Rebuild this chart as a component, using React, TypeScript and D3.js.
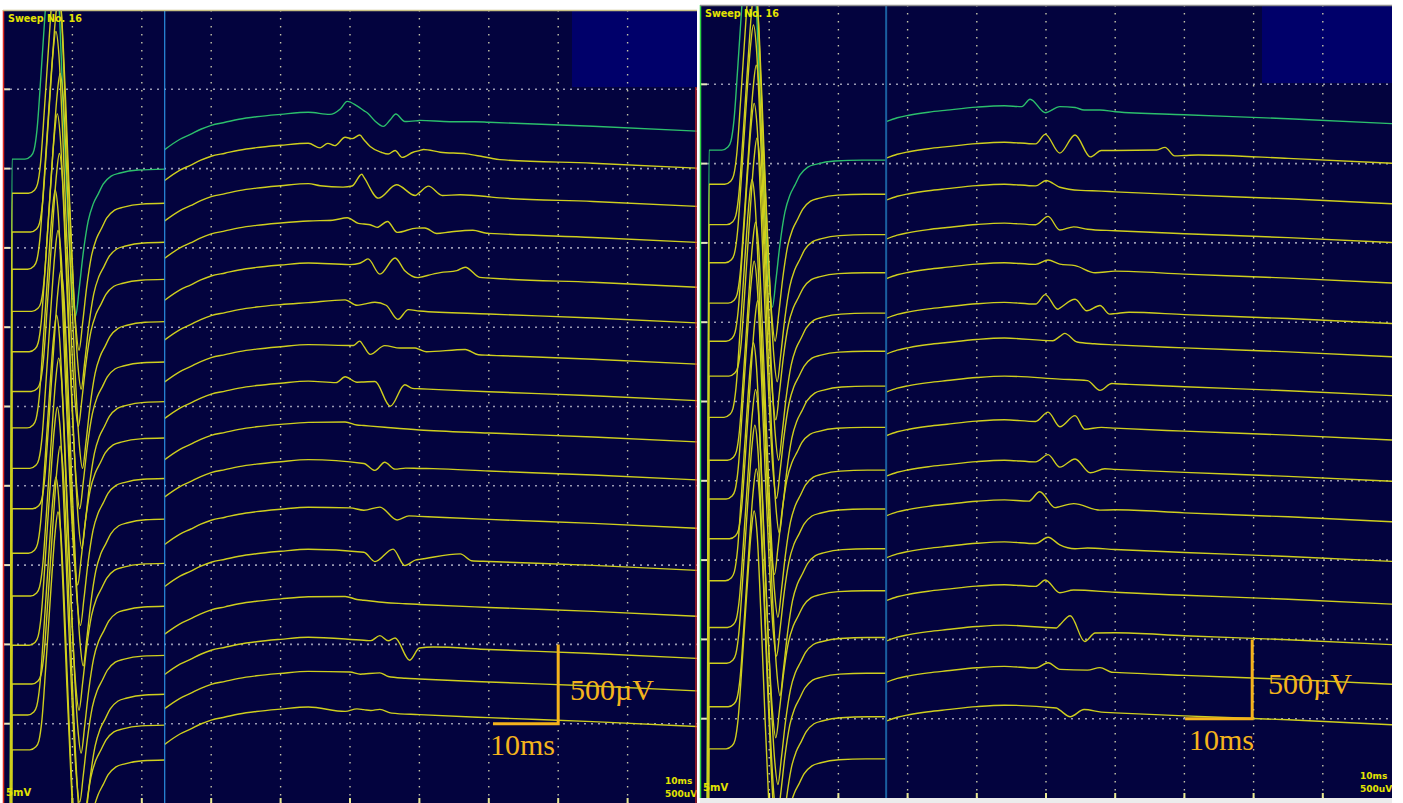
import React from "react";
import * as d3 from "d3";

const W = 1403;
const H = 803;

// scope settings
const sweepMs = 100;
const cmapMvPerDiv = 5;
const fUvPerDiv = 500;
const sweepLabel = "Sweep No. 16";

// CMAP template of the first sweep (ms after sweep start, mV from pre-stimulus baseline)
const cmapT = [0.9, 1.0, 1.3, 3.17, 4.04, 4.47, 4.91, 5.48, 6.2, 6.78, 7.22, 7.65, 8.23, 8.8, 9.38, 9.96, 10.46, 10.97, 11.54, 12.27, 12.99, 13.71, 14.43, 15.58, 16.88, 19.48, 23.38, 27.5];
const cmapMv = [-44, -44, 0, 0, 0.19, 0.57, 1.89, 5.36, 10.09, 13.56, 15.0, 13.56, 8.2, 1.89, -3.78, -8.2, -9.9, -8.2, -5.99, -3.91, -2.84, -2.21, -1.58, -1.07, -0.88, -0.69, -0.63, -0.63];

// per sweep CMAP latency shift (ms)
const leftLatency = [0, 0.5, 0.8, 0.4, 1.0, 0.6, 0.9, 0.3, 0.7, 1.1, 0.5, 0.8, 0.6, 1.0, 0.4, 0.7];
const rightLatency = [0, 0.4, 0.7, 0.5, 0.9, 0.6, 1.0, 0.3, 0.8, 0.6, 1.1, 0.5, 0.8, 0.7, 0.9, 0.6];

// trace positions (divisions from top) for the 5mV part and the 500uV part
const leftBaseDiv = [1.88, 2.31, 2.8, 3.27, 3.8, 4.31, 4.81, 5.27, 5.78, 6.29, 6.85, 7.39, 8.01, 8.5, 8.89, 9.33];
const rightBaseDiv = [1.83, 2.26, 2.77, 3.25, 3.76, 4.24, 4.68, 5.2, 5.74, 6.23, 6.73, 7.26, 7.85, 8.3, 8.85, 9.38];
const leftLevelDiv = [1.29, 1.68, 2.19, 2.66, 3.19, 3.69, 4.22, 4.68, 5.2, 5.67, 6.27, 6.8, 7.4, 7.91, 8.34, 8.79];
const rightLevelDiv = [1.27, 1.73, 2.26, 2.75, 3.25, 3.75, 4.2, 4.68, 5.23, 5.74, 6.24, 6.77, 7.31, 7.82, 8.34, 8.83];

// cursor between the two gains (ms)
const leftCursorMs = 23.3;
const rightCursorMs = 26.9;

// slow background after the cursor (ms, uV)
const leftBgT = [23.3, 25.5, 27, 28.5, 30, 32, 34, 36.5, 40, 44, 52, 60, 70, 85, 100];
const leftBgUv = [-235, -170, -139, -107, -82, -63, -44, -28, -13, 0, -19, -38, -57, -82, -113];
const rightBgT = [26.9, 28.5, 30.2, 33, 35.7, 40, 44, 52, 60, 70, 85, 100];
const rightBgUv = [-101, -76, -60, -41, -28, -9, 0, -19, -38, -57, -82, -113];

// late responses per sweep: [ms, uV]
const leftFWaves: [number, number][][] = [
  [[44, 0], [47.1, -6], [48.6, 32], [49.6, 82], [51, 57], [52.6, 13], [53.6, -32], [54.8, -63], [55.8, -19], [56.6, 19], [57.9, -25], [60.1, -13], [64.4, -13], [68, -6]],
  [[44, 0], [45.7, -25], [46.8, 6], [47.8, -6], [49.3, 50], [50.3, 44], [51.4, 69], [52.9, 0], [54.5, -32], [55.5, -41], [56.5, -16], [57.5, -57], [59.1, -21], [60.6, 0], [63, -13], [66.8, -16], [69.2, -30], [71.6, -44]],
  [[44, 0], [45.7, -9], [49, -10], [50.3, 0], [51.7, 78], [54.1, -67], [56.7, 23], [59.4, -38], [61.3, 25], [63.3, -30], [65.9, -21], [69.7, -25], [71.6, -30]],
  [[44, 0], [47.5, 13], [49.6, 33], [51.2, 2], [52.9, -3], [53.9, -17], [55.4, 24], [56.8, -42], [59.6, -8], [60.8, -5], [62.5, -36], [64.4, -23], [67.7, -6], [69.7, -21], [71.6, -22]],
  [[44, 0], [50, 4], [51.4, 16], [52.6, 46], [54.3, -46], [56.5, 61], [57.9, -16], [59.8, -55], [63, -17], [65.4, 0], [66.6, 24], [68.7, -36], [71.6, -40]],
  [[44, 0], [49.3, 30], [51, 0], [53.6, 25], [55.2, 10], [56.9, -75], [58.4, -10], [60, -15], [70, -15]],
  [[44, 0], [50.5, 10], [51.4, 40], [52.9, -40], [55, 20], [57.2, 10], [59.4, 15], [61, -5], [66.6, 20], [68.5, -10], [72, -10]],
  [[44, 0], [48, 0], [49.3, 40], [51, 10], [53.6, 20], [55.8, -130], [57.9, 10], [59, -10], [62, -10]],
  [[44, 0], [49.3, 15], [51, 0], [55, -5], [60, -10]],
  [[44, 0], [52, -5], [53.6, -45], [55, 10], [56.5, -30], [58, -20], [62, -15]],
  [[44, 0], [50, 10], [52, 0], [54.3, 25], [56.8, -50], [58.5, -20], [62, -20]],
  [[44, 0], [52, 0], [53.6, -55], [56.2, 30], [57.9, -70], [59.5, -30], [65.9, 20], [67.5, -20], [72, -20]],
  [[44, 0], [49.3, 15], [51, 0], [55, -10], [58, -10]],
  [[44, 0], [53, 0], [54.3, 35], [55.5, 5], [56.5, 25], [58.6, -110], [60, -30], [62, -20]],
  [[44, 0], [50, 10], [51.5, 0], [54.3, 15], [55.5, -5], [58, -10]],
  [[44, 0], [49.3, -15], [51, 5], [53, 0], [54.3, 10], [56, -10], [60, -10]],
];

const rightFWaves: [number, number][][] = [
  [[44, 0], [46.5, 0], [47.7, 50], [49.9, -30], [52, 13], [54.2, 13], [55.5, 0], [57.8, 6], [60, 0]],
  [[44, 0], [48.5, 0], [49.9, 63], [52, -50], [54.2, 70], [56.4, -63], [58, -19], [66, 0], [67.2, 19], [68.6, -32], [72, -20]],
  [[44, 0], [48.5, 0], [50, 38], [52, 0], [55, -13], [58, -10]],
  [[44, 0], [48.5, 0], [50.3, 57], [52, -25], [54, 0], [56, -10]],
  [[44, 0], [48.5, 0], [50.3, 32], [52, 10], [54.2, 6], [57.1, -32], [60, -15]],
  [[44, 0], [48.5, 0], [49.9, 63], [51.7, -25], [54.2, 44], [55.9, -25], [57.8, 13], [59.2, -38], [62, -20]],
  [[44, 0], [51, 0], [52.7, 50], [54.5, 0], [57, -5]],
  [[44, 0], [56, 0], [57.8, -57], [59.5, -10], [62, -10]],
  [[44, 0], [48.5, 0], [50.3, 63], [52, -25], [54.2, 50], [55.6, -32], [58, -15]],
  [[44, 0], [48.5, 0], [50.3, 50], [52, -25], [54.2, 32], [56.4, -50], [58.5, -20]],
  [[44, 0], [47.5, 0], [49.1, 63], [51.3, -32], [54, 0], [57.8, -32], [60, -25]],
  [[44, 0], [48.5, 0], [50.3, 44], [52, 0], [54.2, -19], [56, -10]],
  [[44, 0], [48.5, 0], [49.9, 44], [52, -32], [54, -10]],
  [[44, 0], [51.5, 0], [53.5, 82], [55.6, -76], [57.1, -19], [60, -10]],
  [[44, 0], [48.5, 0], [50.3, 38], [52, 0], [56, 5], [57.8, 25], [59.5, 0]],
  [[44, 0], [51.5, 0], [53.5, -50], [55.5, 0], [58, -10]],
];

const BG = "#03033e";
const BOX = "#00006a";
const YELLOW = "#cfcf1e";
const GREEN = "#2cbf6c";
const ORANGE = "#f4b31c";
const LABEL = "#e4e400";

interface PanelProps {
  id: string;
  x0: number;
  x1: number;
  y0: number;
  y1: number;
  cursorMs: number;
  cursorColor: string;
  cursorWidth: number;
  latency: number[];
  baseDiv: number[];
  levelDiv: number[];
  bgT: number[];
  bgUv: number[];
  fwaves: [number, number][][];
  leftColor: string;
  barMs: [number, number];
  barText: { uvX: number; uvY: number; msX: number; msY: number };
  boxX: number;
  boxY1: number;
}

const line = d3
  .line<[number, number]>()
  .x((d) => d[0])
  .y((d) => d[1])
  .curve(d3.curveMonotoneX);

const Panel = (p: PanelProps) => {
  const x = d3.scaleLinear().domain([0, sweepMs]).range([p.x0, p.x1]);
  const y = d3.scaleLinear().domain([0, 10]).range([p.y0, p.y1]);
  const clipId = "clip-" + p.id;

  const cmapPaths = p.baseDiv.map((base, i) => {
    const shifted = cmapT.map((t) => (t >= 3 ? t + p.latency[i] : t));
    const interp = d3.scaleLinear().domain(shifted).range(cmapMv).clamp(true);
    const pts: [number, number][] = [];
    shifted.forEach((t, k) => {
      if (t < p.cursorMs) pts.push([x(t), y(base - cmapMv[k] / cmapMvPerDiv)]);
    });
    pts.push([x(p.cursorMs), y(base - interp(p.cursorMs) / cmapMvPerDiv)]);
    return line(pts) || "";
  });

  const fPaths = p.levelDiv.map((level, i) => {
    const fw = p.fwaves[i];
    const bg = d3.scaleLinear().domain(p.bgT).range(p.bgUv).clamp(true);
    const dev = d3
      .scaleLinear()
      .domain(fw.map((d) => d[0]))
      .range(fw.map((d) => d[1]))
      .clamp(true);
    const ts = Array.from(new Set([...p.bgT, ...fw.map((d) => d[0])]))
      .filter((t) => t >= p.cursorMs)
      .sort((a, b) => a - b);
    const pts: [number, number][] = ts.map((t) => [
      x(t),
      y(level - (bg(t) + dev(t)) / fUvPerDiv),
    ]);
    return line(pts) || "";
  });

  const grid = d3.range(1, 10);

  return (
    <g>
      <defs>
        <clipPath id={clipId}>
          <rect x={p.x0} y={p.y0} width={p.x1 - p.x0} height={p.y1 - p.y0} />
        </clipPath>
      </defs>
      <rect x={p.x0} y={p.y0} width={p.x1 - p.x0} height={p.y1 - p.y0} fill={BG} />
      <rect x={p.boxX} y={p.y0} width={p.x1 - p.boxX} height={p.boxY1 - p.y0} fill={BOX} />
      {grid.map((k) => (
        <line key={"v" + k} x1={x(k * 10)} x2={x(k * 10)} y1={p.y0} y2={p.y1}
          stroke="#c4c4a8" strokeWidth={1.4} strokeDasharray="1.5 6.5" />
      ))}
      {grid.map((k) => (
        <line key={"h" + k} x1={p.x0} x2={p.x1} y1={y(k)} y2={y(k)}
          stroke="#9a9ab4" strokeWidth={1.6} strokeDasharray="2 5" />
      ))}
      {grid.map((k) => (
        <rect key={"bt" + k} x={x(k * 10) - 1} y={p.y1 - 5} width={2} height={5} fill="#e8e890" />
      ))}
      {grid.map((k) => (
        <rect key={"lt" + k} x={p.x0} y={y(k) - 1} width={7} height={2} fill="#e8e8c0" />
      ))}
      <g clipPath={`url(#${clipId})`}>
        {cmapPaths.map((d, i) => (
          <path key={"c" + i} d={d} fill="none" stroke={i === 0 ? GREEN : YELLOW} strokeWidth={1.4} />
        ))}
        {fPaths.map((d, i) => (
          <path key={"f" + i} d={d} fill="none" stroke={i === 0 ? GREEN : YELLOW} strokeWidth={1.4} />
        ))}
      </g>
      <line x1={x(p.cursorMs)} x2={x(p.cursorMs)} y1={p.y0} y2={p.y1} stroke={p.cursorColor} strokeWidth={p.cursorWidth} />
      <line x1={p.x0 + 0.5} x2={p.x0 + 0.5} y1={p.y0} y2={p.y1} stroke={p.leftColor} strokeWidth={1.5} />
      <text x={p.x0 + 5} y={p.y0 + 12} fill={LABEL} fontFamily="DejaVu Sans" fontWeight="bold" fontSize={9.6}>{sweepLabel}</text>
      <text x={p.x0 + 3} y={p.y1 - 7} fill={LABEL} fontFamily="DejaVu Sans" fontWeight="bold" fontSize={10}>5mV</text>
      <text x={p.x1 - 32} y={p.y1 - 19} fill={LABEL} fontFamily="DejaVu Sans" fontWeight="bold" fontSize={9}>10ms</text>
      <text x={p.x1 - 32} y={p.y1 - 6} fill={LABEL} fontFamily="DejaVu Sans" fontWeight="bold" fontSize={9}>500uV</text>
      {/* scale bar */}
      <path
        d={`M${x(p.barMs[0])},${y(9)}H${x(p.barMs[1])}V${y(8)}`}
        fill="none" stroke={ORANGE} strokeWidth={3} />
      <text x={p.barText.uvX} y={p.barText.uvY} fill={ORANGE} fontFamily="Liberation Serif" fontSize={30}>500µV</text>
      <text x={p.barText.msX} y={p.barText.msY} fill={ORANGE} fontFamily="Liberation Serif" fontSize={30}>10ms</text>
    </g>
  );
};

const App = () => {
  return (
    <svg width={W} height={H} style={{ position: "absolute", left: 0, top: 0, background: "#ffffff" }}>
      <Panel
        id="left" x0={3} x1={697} y0={10} y1={803}
        cursorMs={leftCursorMs} cursorColor="#2b8fe0" cursorWidth={1.2}
        latency={leftLatency} baseDiv={leftBaseDiv} levelDiv={leftLevelDiv}
        bgT={leftBgT} bgUv={leftBgUv} fwaves={leftFWaves}
        leftColor="#e02a20" barMs={[70.6, 80]}
        barText={{ uvX: 570, uvY: 700, msX: 490, msY: 755 }}
        boxX={572} boxY1={87}
      />
      <line x1={696} x2={696} y1={87} y2={803} stroke="#e02a20" strokeWidth={1.2} />
      <line x1={3} x2={697} y1={10.5} y2={10.5} stroke="#c8c084" strokeWidth={1.5} />
      <Panel
        id="right" x0={700} x1={1392} y0={5} y1={798}
        cursorMs={rightCursorMs} cursorColor="#1a5fa0" cursorWidth={2}
        latency={rightLatency} baseDiv={rightBaseDiv} levelDiv={rightLevelDiv}
        bgT={rightBgT} bgUv={rightBgUv} fwaves={rightFWaves}
        leftColor="#2ad040" barMs={[70.1, 79.8]}
        barText={{ uvX: 1268, uvY: 694, msX: 1189, msY: 750 }}
        boxX={1262} boxY1={83}
      />
      <line x1={700} x2={1392} y1={5.5} y2={5.5} stroke="#909090" strokeWidth={1.5} />
      <rect x={700} y={798} width={692} height={5} fill="#ececec" />
    </svg>
  );
};

export default App;
